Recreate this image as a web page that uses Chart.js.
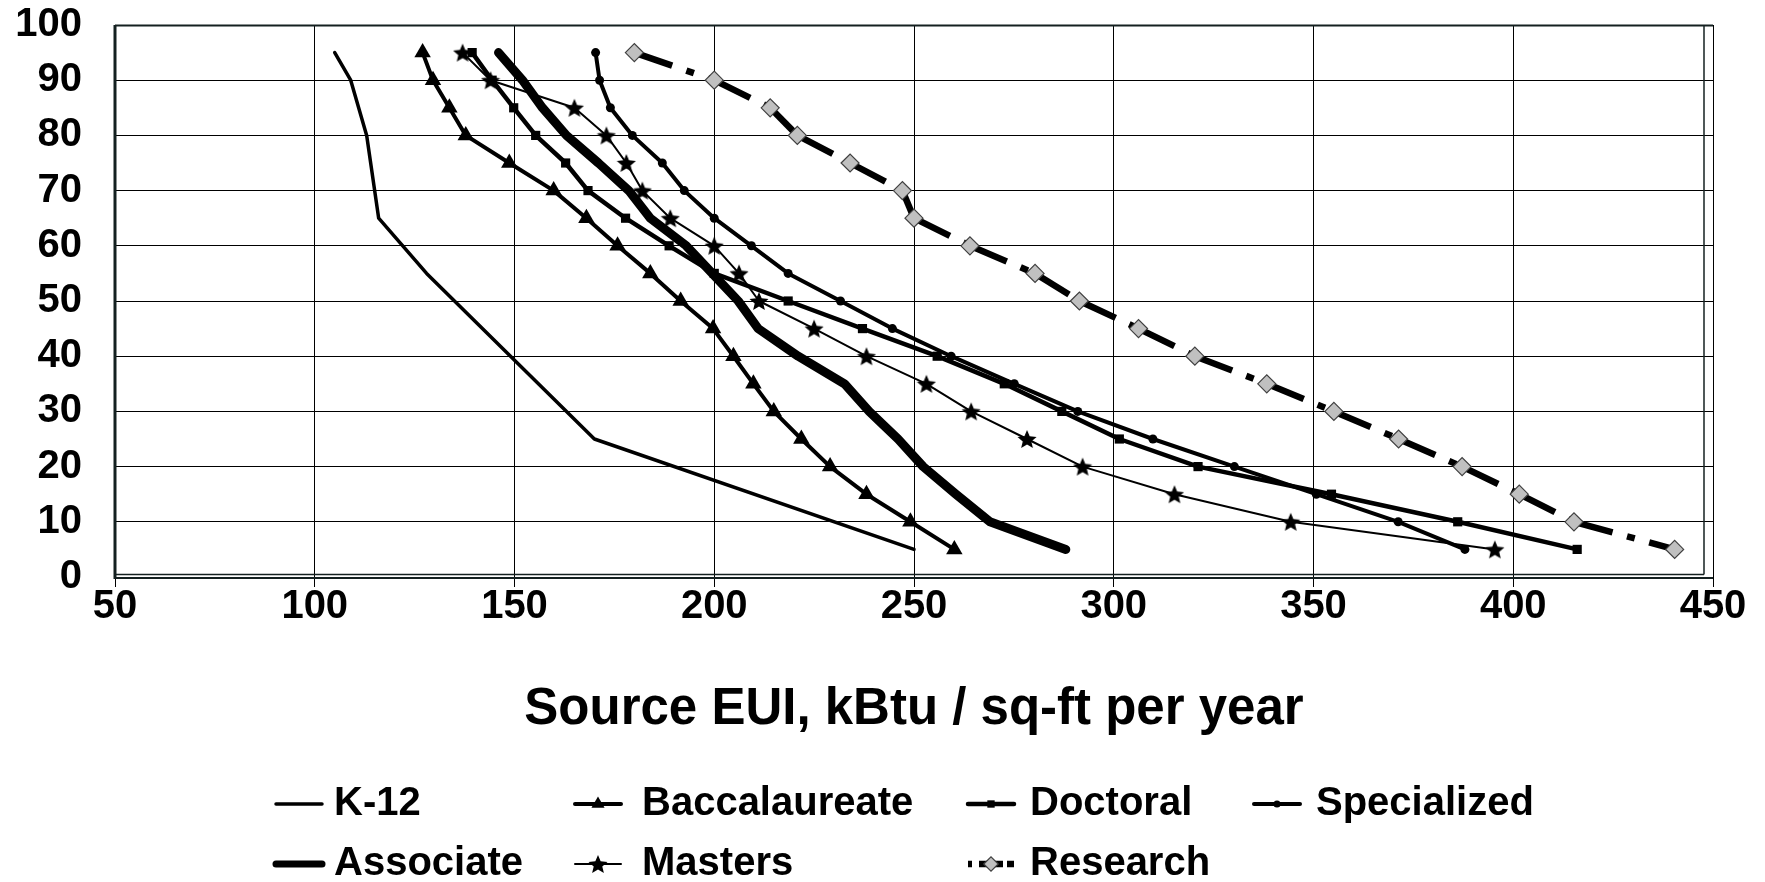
<!DOCTYPE html>
<html>
<head>
<meta charset="utf-8">
<script src="https://cdn.jsdelivr.net/npm/chart.js@4.4.1/dist/chart.umd.min.js"></script>
<style>
  html, body { margin: 0; padding: 0; background: #fff; }
  canvas { display: block; }
</style>
</head>
<body>
<canvas id="euiChart" width="1765" height="882"></canvas>
<script>
// percentile of buildings (y axis)
const percentiles = [95, 90, 85, 80, 75, 70, 65, 60, 55, 50, 45, 40, 35, 30, 25, 20, 15, 10, 5];
const k12Percentiles = [95, 90, 80, 65, 55, 25, 5];

// source EUI, kBtu / sq-ft per year
const k12 = [105, 109, 113, 116, 128, 170, 250];
const associate = [146, 152, 157, 163, 171, 178.6, 184, 193, 199.5, 206, 211, 221, 232.6, 238.8, 246, 252.3, 260.5, 269, 288];
const baccalaureate = [127, 129.6, 133.7, 137.8, 148.7, 159.8, 168, 175.8, 184, 191.6, 199.7, 204.8, 209.8, 214.9, 221.8, 229, 238.1, 249.1, 260.1];
const masters = [137, 144, 165, 173, 178, 182, 189, 200, 206.2, 211.2, 225, 238.1, 253.1, 264.3, 278.3, 292.2, 315.2, 344.3, 395.4];
const doctoral = [139.4, 144.4, 149.8, 155.3, 162.8, 168.4, 177.8, 188.7, 200, 218.5, 237.1, 255.8, 272.6, 287, 301.4, 321.1, 354.5, 386.1, 416];
const research = [180, 200, 214, 220.8, 234, 247.1, 250, 264, 280.3, 291.4, 306.2, 320.3, 338.3, 355.1, 371.3, 387.2, 401.5, 415.2, 440.4];
const specialized = [170.3, 171.3, 174, 179.5, 187, 192.5, 200, 209.3, 218.5, 231.6, 244.6, 259.3, 275.1, 291, 309.8, 330.2, 350.7, 371.2, 387.9];

const seriesNames = ['K-12', 'Associate', 'Baccalaureate', 'Masters', 'Doctoral', 'Research', 'Specialized'];
const xTicks = [50, 100, 150, 200, 250, 300, 350, 400, 450];
const yTicks = [0, 10, 20, 30, 40, 50, 60, 70, 80, 90, 100];

const FONT = "'Liberation Sans', Arial, sans-serif";

function toPoints(xs, ys) {
  return xs.map((x, i) => ({ x: x, y: ys[i] }));
}

// filled five point star used as the Masters marker
function makeStar(size) {
  const c = document.createElement('canvas');
  c.width = size;
  c.height = size;
  const g = c.getContext('2d');
  const r = size / 2, ri = r * 0.45;
  g.beginPath();
  for (let i = 0; i < 10; i++) {
    const a = -Math.PI / 2 + i * Math.PI / 5;
    const rr = i % 2 ? ri : r;
    g.lineTo(r + rr * Math.cos(a), r + 1 + rr * Math.sin(a));
  }
  g.closePath();
  g.fillStyle = '#000';
  g.fill();
  return c;
}
const star = makeStar(20);

const base = { showLine: true, borderColor: '#000', backgroundColor: '#000', tension: 0,
  borderJoinStyle: 'round', borderCapStyle: 'round', pointBorderColor: '#000', pointBorderWidth: 0 };

const datasets = [
  Object.assign({}, base, { label: seriesNames[0], data: toPoints(k12, k12Percentiles), borderWidth: 3.5, pointRadius: 0 }),
  Object.assign({}, base, { label: seriesNames[1], data: toPoints(associate, percentiles), borderWidth: 9, pointRadius: 0 }),
  Object.assign({}, base, { label: seriesNames[2], data: toPoints(baccalaureate, percentiles), borderWidth: 4,
    pointStyle: 'triangle', pointRadius: 9.5 }),
  Object.assign({}, base, { label: seriesNames[3], data: toPoints(masters, percentiles), borderWidth: 2,
    pointStyle: star, pointRadius: 7 }),
  Object.assign({}, base, { label: seriesNames[4], data: toPoints(doctoral, percentiles), borderWidth: 4.5,
    pointStyle: 'rect', pointRadius: 6.5 }),
  Object.assign({}, base, { label: seriesNames[5], data: toPoints(research, percentiles), borderWidth: 6.5,
    borderCapStyle: 'butt', borderJoinStyle: 'miter', borderDash: [40, 15, 8, 15],
    // restart the dash pattern at every point, like the original
    segment: { borderDashOffset: ctx => (ctx.p0DataIndex % 2 ? 0.001 : 0) },
    pointStyle: 'rectRot', pointRadius: 9, backgroundColor: '#c0c0c0', pointBorderColor: '#404040', pointBorderWidth: 1.2 }),
  Object.assign({}, base, { label: seriesNames[6], data: toPoints(specialized, percentiles), borderWidth: 4,
    pointStyle: 'circle', pointRadius: 4.5 })
];

// plot frame: thick left edge, double right and bottom edges
const frame = {
  id: 'frame',
  beforeDatasetsDraw(chart) {
    const { ctx, chartArea: a } = chart;
    ctx.save();
    ctx.strokeStyle = '#142020';
    ctx.lineWidth = 2;
    ctx.beginPath(); ctx.moveTo(a.left, a.top + 0.5); ctx.lineTo(a.right, a.top + 0.5); ctx.stroke();
    ctx.lineWidth = 3;
    ctx.beginPath(); ctx.moveTo(a.left, a.top); ctx.lineTo(a.left, a.bottom + 2); ctx.stroke();
    ctx.lineWidth = 2;
    ctx.beginPath(); ctx.moveTo(a.left, a.bottom + 1); ctx.lineTo(a.right, a.bottom + 1); ctx.stroke();
    ctx.lineWidth = 1.5;
    ctx.beginPath(); ctx.moveTo(a.left, a.bottom - 2.5); ctx.lineTo(a.right - 9, a.bottom - 2.5); ctx.stroke();
    ctx.beginPath(); ctx.moveTo(a.right - 9, a.top); ctx.lineTo(a.right - 9, a.bottom - 2.5); ctx.stroke();
    ctx.restore();
  }
};

// two-row legend laid out like the original
const legendSlots = [
  { sx: 276, tx: 334, y: 804 },
  { sx: 276, tx: 334, y: 864 },
  { sx: 575, tx: 642, y: 804 },
  { sx: 575, tx: 642, y: 864 },
  { sx: 968, tx: 1030, y: 804 },
  { sx: 968, tx: 1030, y: 864 },
  { sx: 1254, tx: 1316, y: 804 }
];
const legend = {
  id: 'gridLegend',
  afterDraw(chart) {
    const ctx = chart.ctx;
    chart.data.datasets.forEach((ds, i) => {
      const s = legendSlots[i];
      const len = 46;
      ctx.save();
      ctx.strokeStyle = '#000';
      ctx.lineWidth = Math.min(ds.borderWidth, 7);
      ctx.lineCap = ds.borderCapStyle === 'butt' ? 'butt' : 'round';
      if (ds.borderDash) ctx.setLineDash([4, 7, 24]);
      ctx.beginPath();
      ctx.moveTo(s.sx, s.y);
      ctx.lineTo(s.sx + len, s.y);
      ctx.stroke();
      ctx.setLineDash([]);
      if (ds.pointRadius > 0 && Chart.helpers && Chart.helpers.drawPoint) {
        ctx.fillStyle = ds.backgroundColor;
        ctx.strokeStyle = ds.pointBorderColor;
        ctx.lineWidth = ds.pointBorderWidth || 0;
        Chart.helpers.drawPoint(ctx, { pointStyle: ds.pointStyle, rotation: 0,
          radius: ds.pointRadius * 0.8, borderWidth: ds.pointBorderWidth || 0 }, s.sx + len / 2, s.y);
      }
      ctx.fillStyle = '#000';
      ctx.font = 'bold 40px ' + FONT;
      ctx.textBaseline = 'middle';
      ctx.textAlign = 'left';
      ctx.fillText(ds.label, s.tx, s.y);
      ctx.restore();
    });
  }
};

new Chart(document.getElementById('euiChart'), {
  type: 'scatter',
  data: { datasets: datasets },
  options: {
    responsive: false,
    animation: false,
    devicePixelRatio: 1,
    layout: { padding: { top: 25, right: 52, bottom: 135, left: 0 } },
    plugins: { legend: { display: false }, tooltip: { enabled: false } },
    scales: {
      x: {
        type: 'linear',
        min: 50,
        max: 450,
        afterBuildTicks: scale => { scale.ticks = xTicks.map(v => ({ value: v })); },
        afterFit: scale => { scale.height = 170; },
        grid: { color: '#000', lineWidth: 1, tickLength: 10, tickColor: '#000' },
        border: { display: false },
        ticks: { color: '#000', padding: 0, maxRotation: 0, autoSkip: false,
          font: { family: FONT, size: 40, weight: 'bold', lineHeight: 1 } },
        title: { display: true, text: 'Source EUI, kBtu / sq-ft per year', color: '#000',
          padding: { top: 0, bottom: 12 },
          font: { family: FONT, size: 51, weight: 'bold', lineHeight: 1 } }
      },
      y: {
        type: 'linear',
        min: 0,
        max: 100,
        afterBuildTicks: scale => { scale.ticks = yTicks.map(v => ({ value: v })); },
        afterFit: scale => { scale.width = 115; },
        // invisible tick marks keep the labels away from the axis
        grid: { color: '#000', lineWidth: 1, drawTicks: true, tickLength: 33, tickColor: 'rgba(0,0,0,0)' },
        border: { display: false },
        ticks: { color: '#000', padding: 0,
          font: { family: FONT, size: 40, weight: 'bold', lineHeight: 1 } }
      }
    }
  },
  plugins: [frame, legend]
});
</script>
</body>
</html>
